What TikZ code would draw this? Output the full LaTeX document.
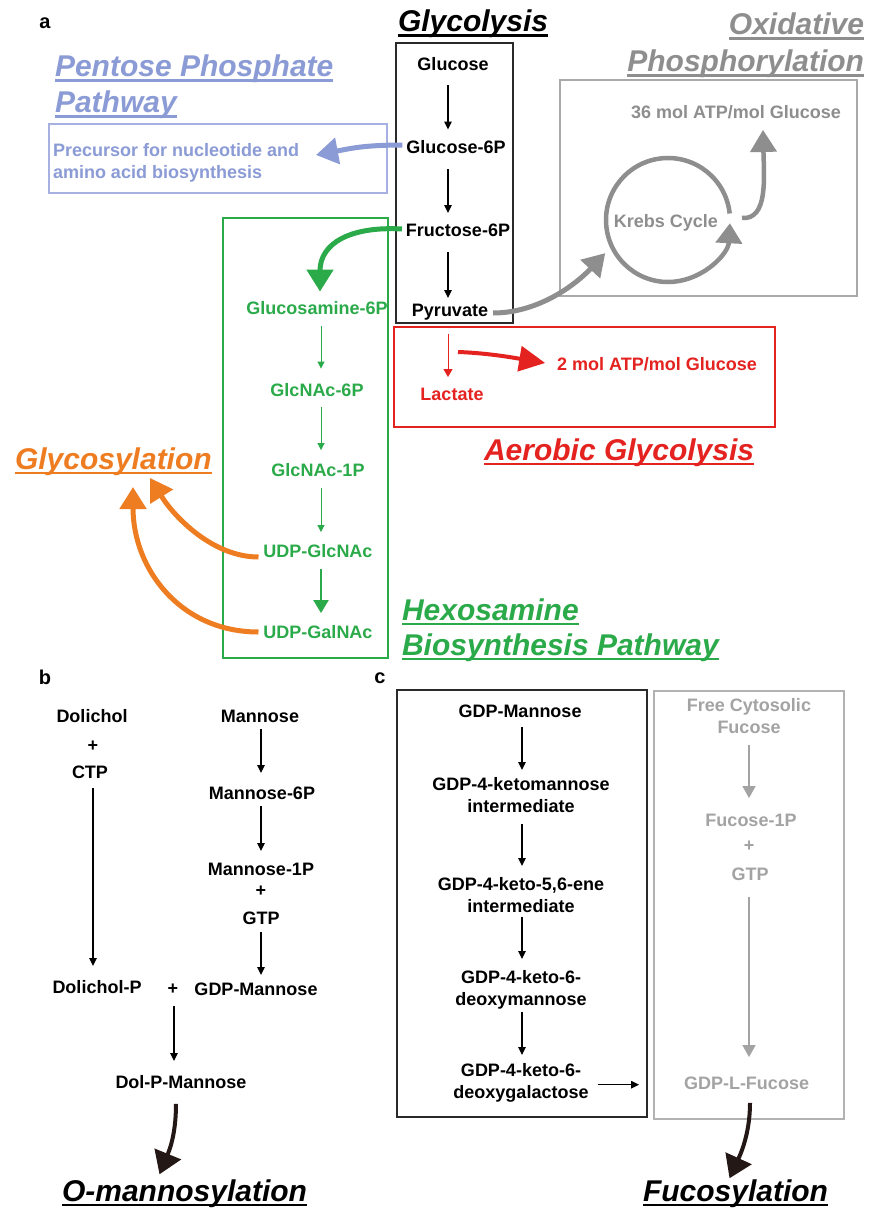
\documentclass[tikz,border=0pt]{standalone}
\usepackage{fontspec}
\setmainfont{Liberation Sans}
\usetikzlibrary{arrows.meta,calc}
\definecolor{cblue}{HTML}{8B9BD5}
\definecolor{cbluebox}{HTML}{A6B1E2}
\definecolor{cgreen}{RGB}{43,170,74}
\definecolor{corange}{HTML}{EE7D22}
\definecolor{cred}{HTML}{E42320}
\definecolor{cgray}{HTML}{8E8E8E}
\definecolor{cgraybox}{HTML}{A9A9A9}
\definecolor{cgrayc}{HTML}{A3A3A3}
\definecolor{cgraycbox}{HTML}{B2B2B2}
\definecolor{cdark}{HTML}{2A2A2A}
\definecolor{cbrown}{HTML}{231815}
\newcommand{\uln}[1]{\setbox0=\hbox{#1}\rlap{\vrule width\wd0 height -2.5pt depth 5pt}\box0}
\newcommand{\dnar}[6][ar]{\draw[#1] ($(#2.south -| #4)+(0,#5)$) -- ($(#3.north -| #4)+(0,-#6)$);}
\begin{document}
\begin{tikzpicture}[x=1pt,y=-1pt,
  lb/.style={font=\bfseries\fontsize{18}{21.5}\selectfont, inner sep=0pt, outer sep=0pt, align=center},
  one/.style={lb, text height=12.9pt, text depth=0pt},
  two/.style={lb, anchor=north},
  tt/.style={font=\bfseries\itshape\fontsize{30}{36}\selectfont, inner sep=0pt, outer sep=0pt},
  plbl/.style={font=\bfseries\fontsize{20}{24}\selectfont, inner sep=0pt, anchor=base},
  box/.style={draw, inner sep=0pt, outer sep=0pt, anchor=north west},
  ar/.style={draw=black, line width=1.3pt, -{Triangle[length=8pt,width=7.5pt]}},
  gar/.style={draw=cgreen, line width=1pt, -{Triangle[length=7pt,width=7pt]}},
  gfat/.style={draw=cgreen, line width=2.4pt, -{Triangle[length=13pt,width=15pt]}},
  rar/.style={draw=cred, line width=1pt, -{Triangle[length=8pt,width=9pt]}},
  fuar/.style={draw=cgrayc, line width=1.4pt, -{Triangle[length=12pt,width=13pt]}},
  big/.style={line width=5pt, -{Triangle[length=22pt,width=26pt]}},
  blk/.style={draw=cbrown, line width=4pt, -{Triangle[length=22pt,width=28pt]}},
]
\fill[white] (0,0) rectangle (868,1209);
\useasboundingbox (0,0) rectangle (868,1209);

\coordinate (colG) at (448,0);
\coordinate (colH) at (321,0);
\coordinate (colD) at (93,0);
\coordinate (colM) at (261,0);
\coordinate (colP) at (174,0);
\coordinate (colC) at (522,0);
\coordinate (colF) at (749,0);

% panel labels
\node[plbl] (pa) at (45,29) {a};
\node[plbl] (pb) at (45,684) {b};
\node[plbl] (pc) at (380,683) {c};

% ---------------- panel a: boxes
\node[box, draw=cdark, line width=1.3pt, minimum width=117pt, minimum height=280pt] (glybox) at (396,43) {};
\node[box, draw=cbluebox, line width=1.2pt, minimum width=338pt, minimum height=69pt] (pppbox) at (49,124) {};
\node[box, draw=cgreen, line width=1.3pt, minimum width=165pt, minimum height=440pt] (hexbox) at (223,218) {};
\node[box, draw=cred, line width=1.2pt, minimum width=381pt, minimum height=100pt] (redbox) at (394,327) {};
\node[box, draw=cgraybox, line width=1.5pt, minimum width=297pt, minimum height=216pt] (oxbox) at (560,80) {};

% titles
\node[tt, anchor=base west] (tglyc) at (398,32) {\uln{Glycolysis}};
\node[tt, anchor=base east, text=cgray] (tox1) at (864,35) {\uln{Oxidative}};
\node[tt, anchor=base east, text=cgray] (tox2) at (864,72) {\uln{Phosphorylation}};
\node[tt, anchor=base west, text=cblue] (tppp1) at (55,77) {\uln{Pentose Phosphate}};
\node[tt, anchor=base west, text=cblue] (tppp2) at (55,113) {\uln{Pathway}};
\node[tt, anchor=base west, text=corange] (tglyco) at (15,469) {\uln{Glycosylation}};
\node[tt, anchor=base west, text=cred] (taer) at (484,460) {\uln{Aerobic Glycolysis}};
\node[tt, anchor=base west, text=cgreen] (thex1) at (402,620) {\uln{Hexosamine}};
\node[tt, anchor=base west, text=cgreen] (thex2) at (402,655) {\uln{Biosynthesis Pathway}};
\node[tt, anchor=base west] (tomann) at (62,1201) {\uln{O-mannosylation}};
\node[tt, anchor=base west] (tfuc) at (643,1201) {\uln{Fucosylation}};

% glycolysis
\node[one] (glc) at (453,64) {Glucose};
\node[one] (g6p) at (456,147) {Glucose-6P};
\node[one] (f6p) at (458,230) {Fructose-6P};
\node[one] (pyr) at (450,310.5) {Pyruvate};
\dnar{glc}{g6p}{colG}{15}{11}
\dnar{g6p}{f6p}{colG}{16}{10.5}
\dnar{f6p}{pyr}{colG}{15.5}{6}

% pentose phosphate
\node[two, anchor=north west, align=left, text=cblue] (prec) at (53,143.5) {Precursor for nucleotide and\\amino acid biosynthesis};
\coordinate (pppin) at (316,155);
\draw[big, draw=cblue] ($(g6p.west)+(-4,-2)$) .. controls +(-40,0) and +(32,-6) .. (pppin);

% hexosamine
\node[one, text=cgreen] (gam) at (317,308) {Glucosamine-6P};
\node[one, text=cgreen] (gn6) at (317,390) {GlcNAc-6P};
\node[one, text=cgreen] (gn1) at (318,470) {GlcNAc-1P};
\node[one, text=cgreen] (ugl) at (318,551) {UDP-GlcNAc};
\node[one, text=cgreen] (uga) at (318,632) {UDP-GalNAc};
\draw[big, draw=cgreen] ($(f6p.west)+(-4,-1)$) .. controls +(-52,-3) and +(0,-48) .. ($(gam.north)+(3,-10)$);
\dnar[gar]{gam}{gn6}{colH}{11.5}{15}
\dnar[gar]{gn6}{gn1}{colH}{10.5}{13.5}
\dnar[gar]{gn1}{ugl}{colH}{11.5}{12.5}
\dnar[gfat]{ugl}{uga}{colH}{11.5}{12.5}

% glycosylation arrows
\coordinate (gly1) at (150,478);
\coordinate (gly2) at (133,487);
\draw[big, draw=corange] ($(ugl.west)+(-5,6)$) .. controls +(-45,0) and +(25,40) .. (gly1);
\draw[big, draw=corange] ($(uga.west)+(-5,0)$) .. controls +(-78,0) and +(0,82) .. (gly2);

% aerobic glycolysis
\node[one, text=cred] (lac) at (452,394) {Lactate};
\node[one, text=cred] (atp2) at (657,364) {2 mol ATP/mol Glucose};
\dnar[rar]{pyr}{lac}{colG}{17}{10.5}
\coordinate (redstart) at (458,352);
\draw[line width=4pt, draw=cred, -{Triangle[length=26pt,width=25pt]}] (redstart) .. controls +(30,1) and +(-30,-5) .. ($(atp2.west)+(-12,-1)$);

% oxidative phosphorylation
\node[one, text=cgray] (atp36) at (736,112) {36 mol ATP/mol Glucose};
\node[one, text=cgray, circle, minimum size=124pt] (krebs) at (668,220) {};
\node[one, text=cgray] (krebslbl) at (666,221) {Krebs Cycle};
\draw[line width=4.5pt, draw=cgray, -{Triangle[length=20pt,width=26pt]}] (krebs.6) arc[start angle=6, end angle=357, radius=62pt];
\draw[big, draw=cgray] ($(pyr.east)+(5,2.5)$) .. controls +(45,0) and +(-30,32) .. ($(krebs.208)+(-8,4)$);
\coordinate (kout) at (742,218);
\draw[line width=4.5pt, draw=cgray, -{Triangle[length=22pt,width=26pt]}] (kout) .. controls +(26,2) and +(1,48) .. ($(atp36.south)+(27,11.5)$);

% ---------------- panel b
\node[one] (dol) at (92,716) {Dolichol};
\node[one] (pl1) at (93,745) {+};
\node[one] (ctp) at (90,772) {CTP};
\node[one] (dolp) at (97,987) {Dolichol-P};
\node[one] (pl2) at (173,988) {+};
\node[one] (gdpm) at (256,989) {GDP-Mannose};
\node[one] (man) at (260,716) {Mannose};
\node[one] (m6p) at (262,793) {Mannose-6P};
\node[one] (m1p) at (261,869) {Mannose-1P};
\node[one] (pl3) at (261,890) {+};
\node[one] (gtp) at (261,918) {GTP};
\node[one] (dpm) at (181,1082) {Dol-P-Mannose};
\dnar{ctp}{dolp}{colD}{9.5}{14.5}
\dnar{man}{m6p}{colM}{6.5}{13.5}
\dnar{m6p}{m1p}{colM}{6.5}{11.5}
\dnar{gtp}{gdpm}{colM}{7.5}{7.5}
\dnar{pl2}{dpm}{colP}{11.5}{14.5}
\draw[blk] ($(dpm.south)+(-5,15.5)$) .. controls +(0,32) and +(9,-22) .. ($(tomann.north)+(-25,-5)$);

% ---------------- panel c
\node[box, draw=cdark, line width=1.3pt, minimum width=250pt, minimum height=427pt] (blkbox) at (397,690) {};
\node[box, draw=cgraycbox, line width=1.3pt, minimum width=190pt, minimum height=428pt] (fucbox) at (654,691) {};
\node[one] (gm) at (520,711) {GDP-Mannose};
\node[two] (k1) at (521,777.5) {GDP-4-ketomannose\\intermediate};
\node[two] (k2) at (521,877.5) {GDP-4-keto-5,6-ene\\intermediate};
\node[two] (k3) at (521,970.5) {GDP-4-keto-6-\\deoxymannose};
\node[two] (k4) at (521,1063.5) {GDP-4-keto-6-\\deoxygalactose};
\dnar{gm}{k1}{colC}{9.5}{7.5}
\dnar{k1}{k2}{colC}{11.5}{11.5}
\dnar{k2}{k3}{colC}{4.5}{11.5}
\dnar{k3}{k4}{colC}{3}{8.5}
\draw[ar] ($(k4.east)+(9,2)$) -- ($(fucbox.west |- k4.east)+(-15,2)$);

\node[two, text=cgrayc] (fcf) at (749,698.5) {Free Cytosolic\\Fucose};
\node[one, text=cgrayc] (f1p) at (751,820) {Fucose-1P};
\node[one, text=cgrayc] (pl4) at (749,845) {+};
\node[one, text=cgrayc] (gtp2) at (750,874) {GTP};
\node[one, text=cgrayc] (gdplf) at (746.5,1083) {GDP-L-Fucose};
\dnar[fuar]{fcf}{f1p}{colF}{11.5}{15.5}
\dnar[fuar]{gtp2}{gdplf}{colF}{16.5}{19.5}
\draw[blk] ($(gdplf.south)+(3.5,13.5)$) .. controls +(0,32) and +(10,-22) .. ($(tfuc.north)+(-6,-1)$);
\end{tikzpicture}
\end{document}
